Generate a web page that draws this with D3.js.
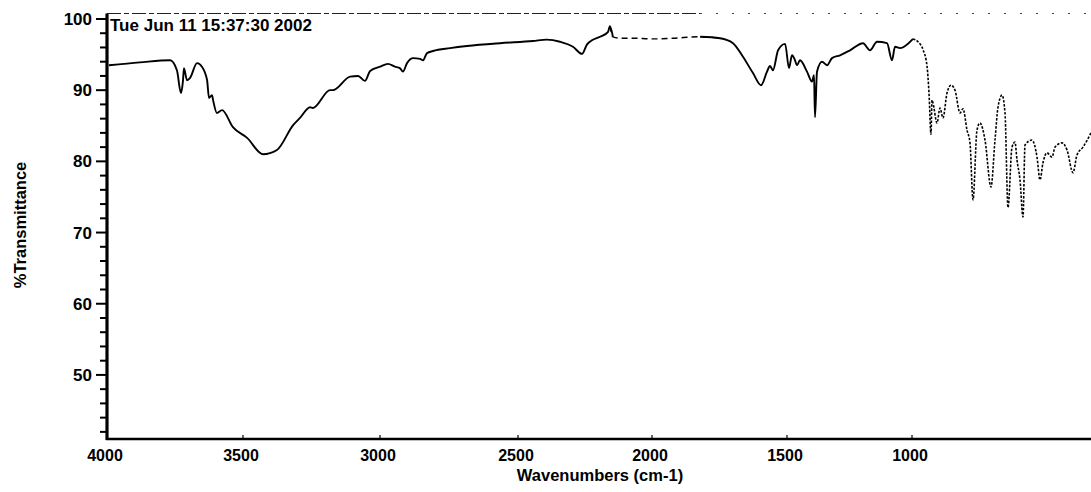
<!DOCTYPE html>
<html>
<head>
<meta charset="utf-8">
<script src="https://cdn.jsdelivr.net/npm/d3@7"></script>
<style>
  html, body { margin: 0; padding: 0; background: #fff; }
  svg { display: block; }
  text { font-family: "Liberation Sans", Arial, sans-serif; font-weight: bold; fill: #000; }
</style>
</head>
<body>
<svg id="chart" width="1091" height="492"></svg>
<script>
// ---- Data ----
const wavenumbers = [
  3993, 3879, 3768, 3743, 3728, 3721, 3717, 3706, 3695, 3669, 3651, 3632, 3625, 3614, 3610, 3596,
  3577, 3537, 3485, 3427, 3376, 3317, 3292, 3255, 3245, 3182, 3172, 3109, 3080, 3055, 3036, 3000,
  2971, 2946, 2928, 2917, 2902, 2880, 2855, 2844, 2830, 2808, 2746, 2685, 2565, 2444, 2392, 2343,
  2295, 2261, 2243, 2224, 2194, 2164, 2157, 2146, 2119, 2071, 2000, 1922, 1822, 1748, 1700, 1663,
  1626, 1596, 1574, 1563, 1552, 1533, 1507, 1492, 1480, 1468, 1460, 1448, 1420, 1400, 1392, 1388,
  1380, 1360, 1340, 1320, 1288, 1248, 1196, 1168, 1140, 1100, 1080, 1068, 1048, 996, 976, 956,
  940, 932, 924, 920, 916, 900, 888, 876, 860, 844, 828, 808, 796, 780, 768, 756,
  740, 728, 708, 684, 668, 656, 640, 628, 616, 600, 588, 580, 568, 556, 548, 520,
  500, 488, 476, 460, 440, 428, 400, 380, 356, 340, 316, 284
];
const transmittance = [
  93.5, 93.9, 94.2, 92.8, 89.6, 91.2, 93.1, 91.4, 91.7, 93.8, 93.3, 91.4, 88.9, 89.3, 88.6, 86.8,
  87.2, 84.8, 83.3, 81.0, 81.6, 85.1, 86.1, 87.6, 87.5, 90.0, 90.0, 91.9, 92.0, 91.3, 92.7, 93.3,
  93.7, 93.3, 93.1, 92.6, 93.8, 94.5, 94.4, 94.2, 95.2, 95.5, 95.9, 96.2, 96.6, 96.9, 97.1, 96.8,
  96.1, 95.1, 96.4, 97.0, 97.5, 98.2, 99.0, 97.5, 97.3, 97.3, 97.2, 97.3, 97.5, 97.3, 96.6, 94.7,
  92.4, 90.7, 92.6, 93.4, 92.8, 95.6, 96.5, 93.1, 94.9, 94.2, 93.5, 94.2, 92.6, 91.2, 92.1, 86.2,
  92.6, 94.0, 93.5, 94.5, 94.9, 95.6, 96.6, 95.6, 96.8, 96.6, 94.2, 96.1, 95.9, 97.2, 96.8, 95.7,
  93.4, 89.6, 83.8, 88.6, 88.2, 85.4, 87.5, 86.1, 89.6, 90.7, 90.0, 86.8, 87.4, 84.4, 82.6, 74.6,
  84.4, 85.4, 83.0, 76.4, 83.0, 87.6, 89.3, 86.8, 73.5, 82.0, 82.7, 80.2, 77.4, 72.2, 82.3, 83.0,
  80.6, 77.4, 79.8, 81.2, 80.6, 82.0, 82.6, 81.6, 78.4, 80.9, 82.0, 84.0
];
const xTickValues = [4000, 3500, 3000, 2500, 2000, 1500, 1000];
const xTickLabels = ["4000", "3500", "3000", "2500", "2000", "1500", "1000"];
const yTickValues = [50, 60, 70, 80, 90, 100];
const yTickLabels = ["50", "60", "70", "80", "90", "100"];
const yMinorTicks = [42, 44, 46, 48, 52, 54, 56, 58, 62, 64, 66, 68, 72, 74, 76, 78, 82, 84, 86, 88, 92, 94, 96, 98];
const timestamp = "Tue Jun 11 15:37:30 2002";
const xTitle = "Wavenumbers (cm-1)";
const yTitle = "%Transmittance";

(function () {
  // ---- Layout ----
  const W = 1091;
  const mLeft = 107, mTop = 13.5, mBottom = 439;
  const svg = d3.select("#chart");

  // x axis of the scanned plot is slightly non-uniform: piecewise-linear scale
  const x = d3.scaleLinear()
    .domain([4000, 3500, 3000, 2500, 2000, 1500, 1000, 250])
    .range([mLeft, 243, 380, 518, 652, 787, 912, 1099.5]);
  const y = d3.scaleLinear().domain([41, 100.77]).range([mBottom, mTop]);

  const data = wavenumbers.map((w, i) => ({ w, t: transmittance[i] }));

  // top frame (faded dashed in the scan)
  svg.append("line")
    .attr("x1", mLeft).attr("x2", 700).attr("y1", y(100.77)).attr("y2", y(100.77))
    .attr("stroke", "#222").attr("stroke-width", 1.2).attr("stroke-dasharray", "14 3 5 3");
  svg.append("line")
    .attr("x1", 700).attr("x2", W).attr("y1", y(100.77)).attr("y2", y(100.77))
    .attr("stroke", "#444").attr("stroke-width", 1).attr("stroke-dasharray", "2 14");

  // spectrum, styled in pieces like the scan
  const line = d3.line().x(d => x(d.w)).y(d => y(d.t)).curve(d3.curveMonotoneX);
  const pieces = [
    { f: d => d.w >= 2146, dash: null, sw: 1.9 },
    { f: d => d.w <= 2157 && d.w >= 1748, dash: "6 4", sw: 1.4 },
    { f: d => d.w <= 1822 && d.w >= 996, dash: null, sw: 1.9 },
    { f: d => d.w <= 1000, dash: "2.5 1.5", sw: 1.6 }
  ];
  pieces.forEach(p => {
    svg.append("path")
      .datum(data.filter(p.f))
      .attr("fill", "none").attr("stroke", "#000")
      .attr("stroke-width", p.sw)
      .attr("stroke-linejoin", "round")
      .attr("stroke-dasharray", p.dash)
      .attr("d", line);
  });

  // Y axis
  const yAxisG = svg.append("g").attr("transform", `translate(${mLeft},0)`);
  yAxisG.append("line").attr("x1", 0).attr("x2", 0).attr("y1", mTop).attr("y2", mBottom + 1)
    .attr("stroke", "#000").attr("stroke-width", 3.2);
  yAxisG.selectAll(".minor").data(yMinorTicks).enter().append("line")
    .attr("x1", -7).attr("x2", 0).attr("y1", d => y(d)).attr("y2", d => y(d))
    .attr("stroke", "#000").attr("stroke-width", 2);
  yAxisG.selectAll(".major").data(yTickValues).enter().append("line")
    .attr("x1", -11).attr("x2", 0).attr("y1", d => y(d)).attr("y2", d => y(d))
    .attr("stroke", "#000").attr("stroke-width", 2);
  yAxisG.selectAll(".ylab").data(yTickValues).enter().append("text")
    .attr("x", -15).attr("y", d => y(d)).attr("dy", "0.36em")
    .attr("text-anchor", "end").attr("font-size", 17)
    .text((d, i) => yTickLabels[i]);

  // X axis
  const xAxisG = svg.append("g").attr("transform", `translate(0,${mBottom})`);
  xAxisG.append("line").attr("x1", mLeft - 1).attr("x2", W).attr("y1", 0).attr("y2", 0)
    .attr("stroke", "#000").attr("stroke-width", 2.4);
  xAxisG.selectAll(".xt").data(xTickValues).enter().append("line")
    .attr("x1", d => x(d)).attr("x2", d => x(d)).attr("y1", 0).attr("y2", -4)
    .attr("stroke", "#000").attr("stroke-width", 1.2);
  xAxisG.selectAll(".xlab").data(xTickValues).enter().append("text")
    .attr("x", d => x(d) - 2).attr("y", 22)
    .attr("text-anchor", "middle").attr("font-size", 16)
    .text((d, i) => xTickLabels[i]);

  // titles
  svg.append("text").attr("x", 600).attr("y", 481).attr("text-anchor", "middle")
    .attr("font-size", 16.5).text(xTitle);
  svg.append("text").attr("transform", "translate(26,225) rotate(-90)")
    .attr("text-anchor", "middle").attr("font-size", 16.5).text(yTitle);
  svg.append("text").attr("x", 110).attr("y", 31).attr("font-size", 17).text(timestamp);
})();
</script>
</body>
</html>
